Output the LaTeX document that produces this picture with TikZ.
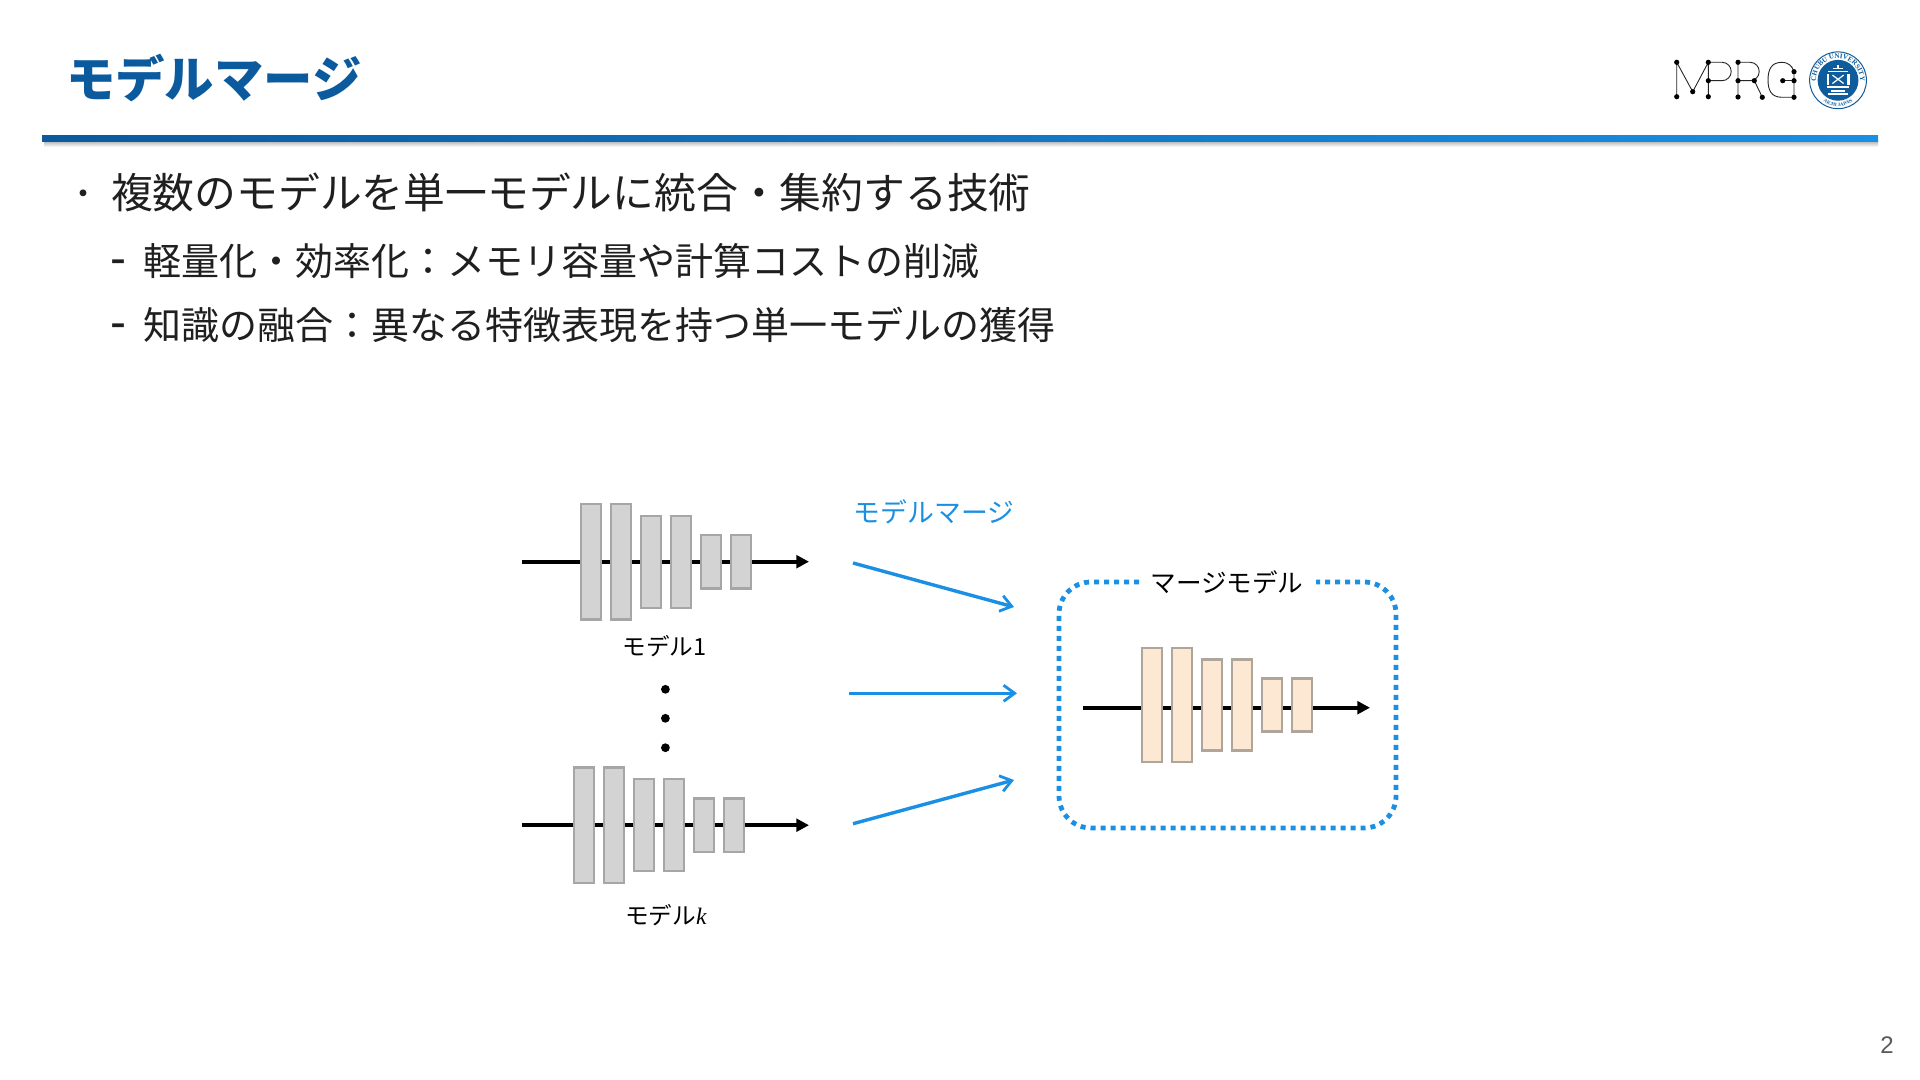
\documentclass[tikz,border=0pt]{standalone}
\usepackage{fontspec}
\setmainfont{Noto Sans CJK JP}
\newfontfamily\latinsans{Liberation Sans}
\newfontfamily\latinserif{Liberation Serif}
\usetikzlibrary{arrows.meta,decorations.text}
\definecolor{titleblue}{HTML}{0B5A9E}
\definecolor{rulelight}{HTML}{1A8FE3}
\definecolor{mergeblue}{HTML}{1A8FE3}
\definecolor{bargray}{HTML}{D3D3D3}
\definecolor{baredge}{HTML}{A6A6A6}
\definecolor{barpeach}{HTML}{FDE8D3}
\definecolor{baredgep}{HTML}{AFA59B}
\definecolor{sealblue}{HTML}{0F5C9C}
\newcommand{\widecolon}{\symbol{"FF1A}}
\tikzset{
  x=0.5pt,y=-0.5pt,
  txt/.style={inner sep=0pt,outer sep=0pt,anchor=west,text=black!88},
  flowline/.style={line width=1.8pt,black,-{Triangle[length=6.3pt,width=6.3pt]}},
  mergearrow/.style={line width=1.7pt,mergeblue,-{Straight Barb[length=5.5pt,width=8pt,line width=1.4pt]}},
  grayt/.style={draw=baredge,fill=bargray,line width=1.1pt,inner sep=0pt,minimum width=10pt,minimum height=57.7pt},
  graym/.style={grayt,minimum height=46pt},
  grays/.style={grayt,minimum height=26.7pt},
  peacht/.style={grayt,draw=baredgep,fill=barpeach,minimum height=57pt},
  peachm/.style={peacht,minimum height=45.5pt},
  peachs/.style={peacht,minimum height=26.5pt},
  logoline/.style={line width=0.45pt,black!85},
  logodot/.style={circle,fill=black,inner sep=0pt,minimum size=2.6pt},
  dotdot/.style={circle,fill=black,inner sep=0pt,minimum size=4.4pt},
  mergebox/.style={draw=mergeblue,line width=2.4pt,dash pattern=on 2.5pt off 2.5pt,rounded corners=16pt},
  sealmark/.style={draw=white,line width=0.85pt},
}
\begin{document}
\begin{tikzpicture}
\useasboundingbox (0,0) rectangle (1920,1080);
\fill[white] (0,0) rectangle (1920,1080);
% title
\node[txt,text=titleblue,font=\bfseries\fontsize{24.7pt}{28pt}\selectfont] (title) at (66,78) {モデルマージ};
% rule
\shade[top color=black!25,bottom color=white] (44,142) rectangle (1878,147);
\shade[left color=titleblue,right color=rulelight] (42,135.5) rectangle (1878,141.5);
% bullets
\node[txt,font=\fontsize{16pt}{20pt}\selectfont] (b0) at (67,198) {・};
\node[txt,font=\fontsize{20.9pt}{24pt}\selectfont] (b1) at (111,192) {複数のモデルを単一モデルに統合・集約する技術};
\node[txt,font=\latinsans\fontsize{24pt}{26pt}\selectfont] (d1) at (110,267) {-};
\node[txt,font=\fontsize{19pt}{22pt}\selectfont] (b2) at (143,261) {軽量化・効率化\widecolon メモリ容量や計算コストの削減};
\node[txt,font=\latinsans\fontsize{24pt}{26pt}\selectfont] (d2) at (110,331) {-};
\node[txt,font=\fontsize{19pt}{22pt}\selectfont] (b3) at (143,325) {知識の融合\widecolon 異なる特徴表現を持つ単一モデルの獲得};
% model 1
\coordinate (a1s) at (522,561.7); \coordinate (a1e) at (809,561.7);
\draw[flowline] (a1s) -- (a1e);
\node[grayt] (a11) at (591,561.7) {};
\node[grayt] (a12) at (621,561.7) {};
\node[graym] (a13) at (651,561.7) {};
\node[graym] (a14) at (681,561.7) {};
\node[grays] (a15) at (711,561.7) {};
\node[grays] (a16) at (741,561.7) {};
\node[font=\fontsize{11.8pt}{14pt}\selectfont,inner sep=0pt] (la) at (664.5,646) {モデル1};
% dots
\node[dotdot] (p1) at (665.4,689.3) {};
\node[dotdot] (p2) at (665.4,718.3) {};
\node[dotdot] (p3) at (665.4,747.7) {};
% model k
\coordinate (aks) at (522,825.2); \coordinate (ake) at (809,825.2);
\draw[flowline] (aks) -- (ake);
\node[grayt] (ak1) at (583.7,825.2) {};
\node[grayt] (ak2) at (613.7,825.2) {};
\node[graym] (ak3) at (643.7,825.2) {};
\node[graym] (ak4) at (673.7,825.2) {};
\node[grays] (ak5) at (703.7,825.2) {};
\node[grays] (ak6) at (733.7,825.2) {};
\node[font=\fontsize{11.8pt}{14pt}\selectfont,inner sep=0pt] (lk) at (666,915) {モデル{\latinserif\itshape k}};
% merge arrows
\node[font=\fontsize{13.4pt}{16pt}\selectfont,text=mergeblue,inner sep=0pt] (lm) at (934,512) {モデルマージ};
\coordinate (m1s) at (853,563); \coordinate (m1e) at (1014,607);
\coordinate (m2s) at (849,693.3); \coordinate (m2e) at (1017,693.3);
\coordinate (m3s) at (853,823.7); \coordinate (m3e) at (1014,780);
\draw[mergearrow] (m1s) -- (m1e);
\draw[mergearrow] (m2s) -- (m2e);
\draw[mergearrow] (m3s) -- (m3e);
% merged model
\draw[mergebox] (1139,582) -- (1059,582) -- (1059,828) -- (1396,828) -- (1396,582) -- (1316,582);
\node[font=\fontsize{12.8pt}{16pt}\selectfont,inner sep=0pt] (lmm) at (1227,582) {マージモデル};
\coordinate (ms) at (1083,707.7); \coordinate (me) at (1370,707.7);
\draw[flowline] (ms) -- (me);
\node[peacht] (m1) at (1152,705) {};
\node[peacht] (m2) at (1182,705) {};
\node[peachm] (m3) at (1212,705) {};
\node[peachm] (m4) at (1242,705) {};
\node[peachs] (m5) at (1272,705) {};
\node[peachs] (m6) at (1302,705) {};
% logo
\draw[logoline] (1676.7,96.7) -- (1676.7,62.3) -- (1692.7,91.7) -- (1708.3,62.3) -- (1708.3,96.7);
\draw[logoline] (1708.3,62.3) -- (1722,62.3) arc[start angle=-90,end angle=90,radius=9.2] -- (1708.3,80.7);
\draw[logoline] (1738,97) -- (1738,62.3) -- (1750,62.3) arc[start angle=-90,end angle=90,radius=9.2] -- (1738,80.7);
\draw[logoline] (1754.3,80.7) -- (1762.3,97.3);
\draw[logoline] (1794,71.7) .. controls (1792,65) and (1787,62.3) .. (1782,62.3) .. controls (1771,62.3) and (1768,70) .. (1768,80) .. controls (1768,90) and (1771,97.3) .. (1782,97.3) -- (1794,97.3) -- (1794,71.7);
\draw[logoline] (1782.7,80.7) -- (1794,80.7);
\foreach \nm/\px/\py in {a/1676.7/62.3,b/1676.7/96.7,c/1692.7/91.7,d/1708.3/62.3,e/1708.3/96.7,f/1708.3/80.7,g/1738/62.3,h/1738/80.7,i/1738/97,j/1754.3/80.7,k/1762.3/97.3,l/1794/71.7,m/1794/80.7,n/1782.7/80.7,o/1794/97.3}
  \node[logodot] (ld\nm) at (\px,\py) {};
% seal
\node[circle,draw=sealblue,line width=0.5pt,minimum size=28.4pt,inner sep=0pt] (seal) at (1838,80.3) {};
\node[circle,fill=sealblue,minimum size=20.4pt,inner sep=0pt] (sealin) at (1838,80.3) {};
\begin{scope}[shift={(1838,80.3)},x=1pt,y=1pt]
  \path[decorate,decoration={text along path,text align=center,text={|\latinserif\bfseries\fontsize{3.5pt}{4pt}\selectfont\color{sealblue}|CHUBU UNIVERSITY}}]
    (195:11) arc[start angle=195,end angle=-15,radius=11];
  \path[decorate,decoration={text along path,text align=center,text={|\latinserif\bfseries\fontsize{2.4pt}{3pt}\selectfont\color{sealblue}|AICHI JAPAN}}]
    (215:13) arc[start angle=215,end angle=325,radius=13];
  % emblem
  \draw[sealmark,line width=0.6pt] (-2.4,6) -- (2.4,6);
  \draw[sealmark] (0,7.6) -- (0,5.4);
  \draw[sealmark] (-5,4.4) -- (5,4.4);
  \draw[sealmark,line width=1.1pt] (-5.2,3) -- (-5.2,-2.6);
  \draw[sealmark,line width=1.1pt] (5.2,3) -- (5.2,-2.6);
  \draw[sealmark,line width=0.6pt] (-2.8,2.6) -- (2.8,-1.6) (-2.8,-1.6) -- (2.8,2.6);
  \draw[sealmark] (-5.6,-3.4) -- (5.6,-3.4);
  \draw[sealmark,line width=1.1pt] (-3.4,-5.4) -- (3.4,-5.4);
  \draw[sealmark,line width=0.6pt] (-4.8,-6.9) -- (4.8,-6.9);
\end{scope}
\node[text=black!65,inner sep=0pt,font=\latinsans\fontsize{12pt}{14pt}\selectfont] (pg) at (1887,1045) {2};
\end{tikzpicture}
\end{document}
